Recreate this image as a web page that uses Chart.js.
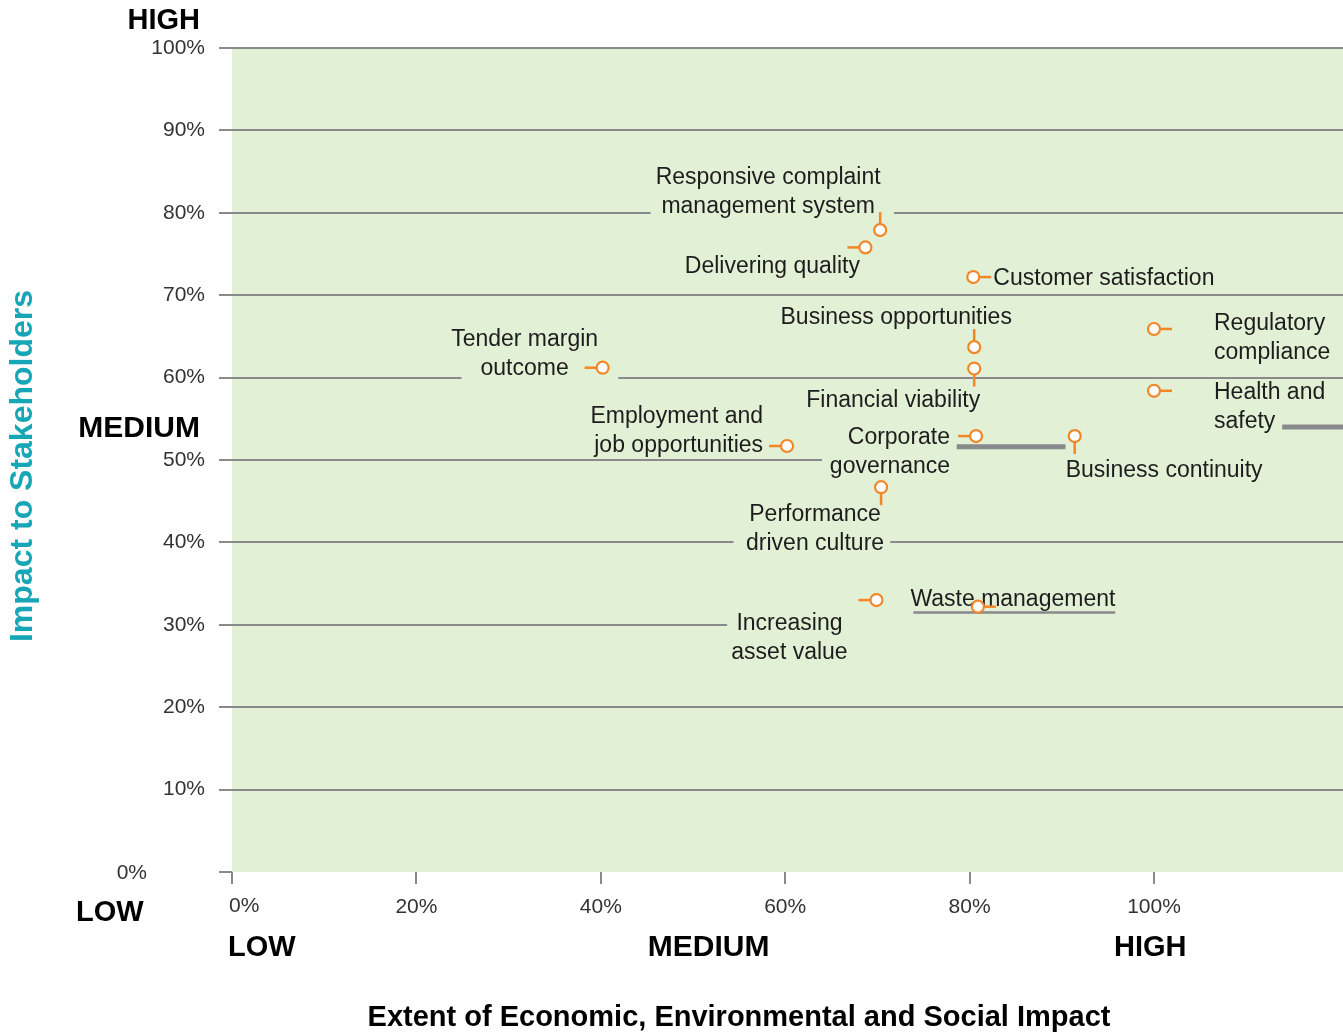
<!DOCTYPE html>
<html>
<head>
<meta charset="utf-8">
<title>Materiality Matrix</title>
<script src="https://cdn.jsdelivr.net/npm/chart.js@4.4.1/dist/chart.umd.min.js"></script>
<style>
  html, body { margin: 0; padding: 0; background: #ffffff; }
  #wrap { width: 1343px; height: 1034px; position: relative; }
  canvas { display: block; }
</style>
</head>
<body>
<div id="wrap"><canvas id="matrix" width="1343" height="1034"></canvas></div>
<script>
// ---- Material issues (label text, line breaks where the label wraps) ----
const issues = [
  'Responsive complaint\nmanagement system',
  'Delivering quality',
  'Customer satisfaction',
  'Business opportunities',
  'Financial viability',
  'Regulatory\ncompliance',
  'Health and\nsafety',
  'Corporate\ngovernance',
  'Business continuity',
  'Tender margin\noutcome',
  'Employment and\njob opportunities',
  'Performance\ndriven culture',
  'Increasing\nasset value',
  'Waste management'
];

// Extent of economic, environmental and social impact (%)
const economicImpact = [70.3, 68.7, 80.4, 80.5, 80.5, 100, 100, 80.7, 91.4, 40.2, 60.2, 70.4, 69.9, 80.9];
// Impact to stakeholders (%)
const stakeholderImpact = [77.9, 75.8, 72.2, 63.7, 61.1, 65.9, 58.4, 52.9, 52.9, 61.2, 51.7, 46.7, 33.0, 32.2];

// Axis ticks
const xTickValues = [0, 20, 40, 60, 80, 100];
const yTickValues = [0, 10, 20, 30, 40, 50, 60, 70, 80, 90, 100];
const levelNames = ['LOW', 'MEDIUM', 'HIGH'];

// ---- Presentation ----
const FONT = '"Liberation Sans", Arial, Helvetica, sans-serif';
const GREEN = 'rgb(226,240,214)';
const GRID = 'rgb(137,138,140)';
const ORANGE = 'rgb(243,134,38)';
const TEAL = '#17a6b6';
const INK = '#1d1d1d';

// Label placement relative to each marker (pixels): alignment, offset of first line
const labelPlacement = [
  { align: 'center', dx: -112, dy: -54 },
  { align: 'center', dx: -93,  dy: 17 },
  { align: 'left',   dx: 20,   dy: 0 },
  { align: 'center', dx: -78,  dy: -31 },
  { align: 'center', dx: -81,  dy: 30 },
  { align: 'left',   dx: 60,   dy: -7 },
  { align: 'left',   dx: 60,   dy: 0 },
  { align: 'right',  dx: -26,  dy: 0 },
  { align: 'left',   dx: -9,   dy: 33 },
  { align: 'center', dx: -78,  dy: -30 },
  { align: 'right',  dx: -24,  dy: -31 },
  { align: 'center', dx: -66,  dy: 25 },
  { align: 'center', dx: -87,  dy: 22 },
  { align: 'center', dx: 35,   dy: -9 }
];
// Direction of the leader stub on each marker
const stubDirection = ['up', 'left', 'right', 'up', 'down', 'right', 'right', 'left', 'down', 'left', 'left', 'down', 'left', 'right'];

// Horizontal rules are interrupted behind the label blocks (axis units)
const ruleGaps = {
  80: [[45.4, 71.8]],
  60: [[24.9, 41.9]],
  50: [[64.0, 200]],
  40: [[54.4, 71.4]],
  30: [[53.7, 200]]
};
// Short rule pieces sitting beside some labels (axis units)
const rulePieces = [
  { y: 51.6, from: 78.6, to: 90.4, width: 5 },
  { y: 54.0, from: 113.9, to: 121, width: 5 },
  { y: 31.5, from: 73.9, to: 95.8, width: 2.5 }
];

const LINE_H = 29;
const TEXT_SHIFT = 2; // optical baseline correction for 'middle'

const matrixPlugin = {
  id: 'matrixDecor',
  beforeDraw(chart) {
    const { ctx, chartArea: a } = chart;
    ctx.save();
    ctx.fillStyle = GREEN;
    ctx.fillRect(a.left, a.top, a.right - a.left, a.bottom - a.top);
    ctx.restore();
  },
  beforeDatasetsDraw(chart) {
    const { ctx, chartArea: a, scales: { x, y } } = chart;
    ctx.save();
    // horizontal rules with gaps
    ctx.strokeStyle = GRID;
    ctx.lineWidth = 2;
    yTickValues.forEach(v => {
      if (v === 0) return;
      const py = Math.round(y.getPixelForValue(v));
      const gaps = (ruleGaps[v] || []).map(g => [x.getPixelForValue(g[0]), Math.min(a.right, x.getPixelForValue(g[1]))]);
      let start = a.left;
      gaps.sort((p, q) => p[0] - q[0]).forEach(g => {
        if (g[0] > start) { ctx.beginPath(); ctx.moveTo(start, py); ctx.lineTo(g[0], py); ctx.stroke(); }
        start = Math.max(start, g[1]);
      });
      if (start < a.right) { ctx.beginPath(); ctx.moveTo(start, py); ctx.lineTo(a.right, py); ctx.stroke(); }
    });
    rulePieces.forEach(p => {
      const py = y.getPixelForValue(p.y);
      ctx.lineWidth = p.width;
      ctx.beginPath();
      ctx.moveTo(x.getPixelForValue(p.from), py);
      ctx.lineTo(Math.min(a.right, x.getPixelForValue(p.to)), py);
      ctx.stroke();
    });

    // issue labels
    ctx.fillStyle = INK;
    ctx.font = '23px ' + FONT;
    ctx.textBaseline = 'middle';
    const meta = chart.getDatasetMeta(0);
    meta.data.forEach((pt, i) => {
      const pl = labelPlacement[i];
      ctx.textAlign = pl.align;
      issues[i].split('\n').forEach((line, k) => {
        ctx.fillText(line, pt.x + pl.dx, pt.y + pl.dy + k * LINE_H + TEXT_SHIFT);
      });
    });

    // leader stubs
    ctx.strokeStyle = ORANGE;
    ctx.lineWidth = 2.5;
    const dirs = { up: [0, -1], down: [0, 1], left: [-1, 0], right: [1, 0] };
    meta.data.forEach((pt, i) => {
      const d = dirs[stubDirection[i]];
      ctx.beginPath();
      ctx.moveTo(pt.x, pt.y);
      ctx.lineTo(pt.x + d[0] * 18, pt.y + d[1] * 18);
      ctx.stroke();
    });
    ctx.restore();
  },
  afterDraw(chart) {
    const { ctx, chartArea: a, scales: { x, y } } = chart;
    ctx.save();
    ctx.textBaseline = 'middle';

    // corner zero labels
    ctx.fillStyle = '#333';
    ctx.font = '21px ' + FONT;
    ctx.textAlign = 'right';
    ctx.fillText(yTickValues[0] + '%', a.left - 85, y.getPixelForValue(0) + 1);
    ctx.textAlign = 'left';
    ctx.fillText(xTickValues[0] + '%', x.getPixelForValue(0) - 3, a.bottom + 34);

    // level words
    ctx.fillStyle = '#000';
    ctx.font = 'bold 29px ' + FONT;
    ctx.textAlign = 'right';
    ctx.fillText(levelNames[2], a.left - 32, a.top - 29 + TEXT_SHIFT);
    ctx.font = 'bold 30px ' + FONT;
    ctx.fillText(levelNames[1], a.left - 32, y.getPixelForValue(54.0) + TEXT_SHIFT);
    ctx.font = 'bold 29px ' + FONT;
    ctx.textAlign = 'left';
    ctx.fillText(levelNames[0], 76, a.bottom + 39 + TEXT_SHIFT);

    const lvlY = a.bottom + 74 + TEXT_SHIFT;
    ctx.textAlign = 'left';
    ctx.fillText(levelNames[0], x.getPixelForValue(0) - 4, lvlY);
    ctx.textAlign = 'center';
    ctx.font = 'bold 30px ' + FONT;
    ctx.fillText(levelNames[1], x.getPixelForValue(51.7), lvlY);
    ctx.font = 'bold 29px ' + FONT;
    ctx.fillText(levelNames[2], x.getPixelForValue(99.6), lvlY);

    // axis titles
    ctx.font = 'bold 29px ' + FONT;
    ctx.fillText('Extent of Economic, Environmental and Social Impact', 739, a.bottom + 144 + TEXT_SHIFT);

    ctx.translate(23, 466);
    ctx.rotate(-Math.PI / 2);
    ctx.fillStyle = TEAL;
    ctx.font = 'bold 32px ' + FONT;
    ctx.textAlign = 'center';
    ctx.fillText('Impact to Stakeholders', 0, 0);
    ctx.restore();
  }
};

new Chart(document.getElementById('matrix'), {
  type: 'scatter',
  data: {
    datasets: [{
      label: 'Material issues',
      data: economicImpact.map((v, i) => ({ x: v, y: stakeholderImpact[i] })),
      pointRadius: 6,
      pointHoverRadius: 6,
      pointBorderWidth: 2.2,
      pointBackgroundColor: '#ffffff',
      pointBorderColor: ORANGE,
      clip: false
    }]
  },
  options: {
    responsive: false,
    animation: false,
    devicePixelRatio: 1,
    layout: { autoPadding: false, padding: { top: 48, left: 0, right: 0, bottom: 0 } },
    plugins: { legend: { display: false }, tooltip: { enabled: false } },
    scales: {
      x: {
        type: 'linear',
        min: 0,
        max: 120.5,
        afterBuildTicks: s => { s.ticks = xTickValues.map(v => ({ value: v })); },
        afterFit: s => { s.height = 162; s.paddingLeft = 0; s.paddingRight = 0; },
        grid: { drawOnChartArea: false, drawTicks: true, tickLength: 12, color: GRID, lineWidth: 2 },
        border: { display: false },
        ticks: {
          autoSkip: false,
          maxRotation: 0,
          padding: 11,
          color: '#333',
          font: { family: FONT, size: 21 },
          callback: v => (v === 0 ? '' : v + '%')
        }
      },
      y: {
        type: 'linear',
        min: 0,
        max: 100,
        afterBuildTicks: s => { s.ticks = yTickValues.map(v => ({ value: v })); },
        afterFit: s => { s.width = 232; s.paddingTop = 0; s.paddingBottom = 0; },
        grid: { drawOnChartArea: false, drawTicks: true, tickLength: 13, color: GRID, lineWidth: 2 },
        border: { display: false },
        ticks: {
          padding: 14,
          color: '#333',
          font: { family: FONT, size: 21 },
          callback: v => (v === 0 ? '' : v + '%')
        }
      }
    }
  },
  plugins: [matrixPlugin]
});
</script>
</body>
</html>
